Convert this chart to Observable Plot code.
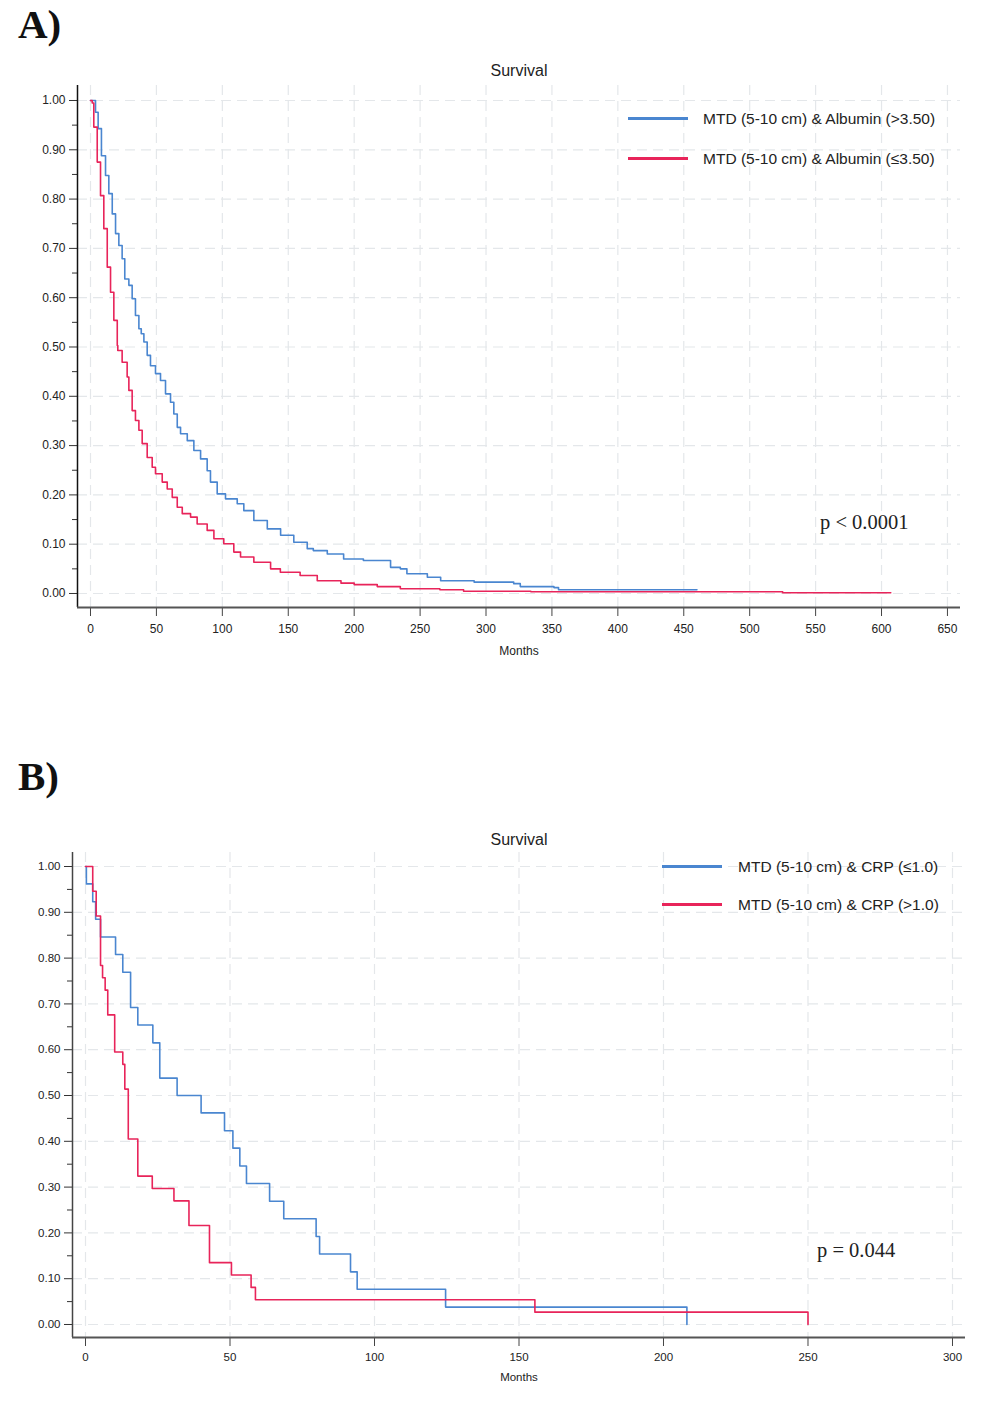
<!DOCTYPE html>
<html>
<head>
<meta charset="utf-8">
<script src="https://cdn.jsdelivr.net/npm/d3@7"></script>
<script src="https://cdn.jsdelivr.net/npm/@observablehq/plot@0.6"></script>
<style>
  body { margin: 0; background: #fff; }
  #page { position: relative; width: 987px; height: 1409px; overflow: hidden; background: #fff; }
  .panel { position: absolute; font-family: "Liberation Serif", "Times New Roman", serif; font-weight: bold; font-size: 41px; line-height: 1.2; color: #111; }
  .pval { position: absolute; font-family: "Liberation Serif", "Times New Roman", serif; font-size: 20.5px; line-height: 1; color: #222; white-space: nowrap; }
  .abs { position: absolute; }
  .leg { position: absolute; font-family: "Liberation Sans", Arial, sans-serif; font-size: 15.5px; color: #222; white-space: nowrap; line-height: 1; }
</style>
</head>
<body>
<div id="page">
  <div class="panel" style="left:18px;top:0px;">A)</div>
  <div id="chartA" class="abs" style="left:0;top:50px;"></div>
  <div class="pval" style="left:820px;top:512px;">p &lt; 0.0001</div>
  <div class="panel" style="left:18px;top:752px;">B)</div>
  <div id="chartB" class="abs" style="left:0;top:815px;"></div>
  <div class="pval" style="left:817px;top:1240px;">p = 0.044</div>
</div>
<script>
// ---------- Panel A data: MTD (5-10 cm) & Albumin ----------
const albHighMonths = [0, 3.8, 5.8, 8.3, 11.4, 13.9, 16.5, 19, 21.5, 24, 26, 29.1, 31.6, 34.1, 36.7, 38.5, 40.5, 43, 45.5, 49.3, 53.1, 56.9, 60.7, 63.2, 65.8, 68.3, 73.4, 78.4, 83.5, 88.5, 91, 96.1, 102.4, 111.3, 116.3, 123.9, 134.1, 144.2, 154.2, 164.4, 169, 179.6, 192, 207, 227.6, 235, 240, 255.5, 265.6, 291, 321, 326, 351.5, 355, 460];
const albHighSurv   = [1.00, 0.976, 0.943, 0.888, 0.848, 0.811, 0.770, 0.730, 0.706, 0.679, 0.638, 0.625, 0.598, 0.564, 0.537, 0.527, 0.510, 0.483, 0.462, 0.446, 0.432, 0.405, 0.388, 0.364, 0.337, 0.324, 0.310, 0.290, 0.273, 0.249, 0.226, 0.202, 0.192, 0.182, 0.168, 0.148, 0.131, 0.118, 0.104, 0.091, 0.087, 0.080, 0.070, 0.067, 0.053, 0.050, 0.040, 0.033, 0.026, 0.023, 0.020, 0.014, 0.012, 0.0075, 0.0075];
const albLowMonths  = [0, 1.3, 2.5, 5.1, 7.6, 10.1, 12.7, 15.2, 17.7, 20.3, 20.7, 24, 27.8, 29.1, 31.6, 34.1, 36.7, 39.2, 43, 46.8, 49.3, 54.4, 58.2, 62, 65.8, 69.6, 75.9, 80.9, 88.5, 93.6, 101.1, 108.7, 113.8, 123.9, 136.6, 144, 159, 172, 190, 200, 217.5, 235, 265, 283, 334, 525, 607];
const albLowSurv    = [1.00, 0.995, 0.946, 0.875, 0.807, 0.740, 0.662, 0.611, 0.554, 0.503, 0.493, 0.469, 0.439, 0.412, 0.371, 0.351, 0.331, 0.304, 0.276, 0.256, 0.243, 0.226, 0.212, 0.195, 0.175, 0.162, 0.155, 0.141, 0.128, 0.111, 0.101, 0.084, 0.074, 0.0635, 0.050, 0.043, 0.0365, 0.026, 0.021, 0.018, 0.014, 0.0095, 0.0075, 0.0047, 0.0035, 0.0015, 0.0015];

// ---------- Panel B data: MTD (5-10 cm) & CRP ----------
const crpLowMonths  = [0, 0.3, 2.5, 3.5, 5.2, 10.4, 12.9, 15.6, 18.1, 23.3, 25.7, 31.7, 40, 48.1, 51, 53.4, 55.7, 63.7, 68.6, 79.8, 81, 91.7, 94, 124.6, 208.1, 208.1];
const crpLowSurv    = [1.000, 0.962, 0.923, 0.885, 0.846, 0.808, 0.769, 0.692, 0.654, 0.615, 0.538, 0.500, 0.462, 0.423, 0.385, 0.346, 0.308, 0.269, 0.231, 0.192, 0.154, 0.115, 0.077, 0.038, 0.038, 0];
const crpHighMonths = [0, 2.5, 3.7, 5.2, 5.9, 6.8, 7.7, 10.1, 12.9, 13.6, 14.8, 18.1, 23.1, 30.6, 35.8, 42.9, 50.5, 57.3, 58.8, 155.5, 250, 250];
const crpHighSurv   = [1.000, 0.946, 0.892, 0.784, 0.757, 0.730, 0.676, 0.595, 0.568, 0.514, 0.405, 0.324, 0.297, 0.270, 0.216, 0.135, 0.108, 0.081, 0.054, 0.027, 0.027, 0];

// ---------- Labels / ticks ----------
const titleText = "Survival";
const xLabelText = "Months";
const legendA = ["MTD (5-10 cm) & Albumin (>3.50)", "MTD (5-10 cm) & Albumin (\u22643.50)"];
const legendB = ["MTD (5-10 cm) & CRP (\u22641.0)", "MTD (5-10 cm) & CRP (>1.0)"];
const yTicks = [0.0, 0.1, 0.2, 0.3, 0.4, 0.5, 0.6, 0.7, 0.8, 0.9, 1.0];
const yMinorTicks = [0.05, 0.15, 0.25, 0.35, 0.45, 0.55, 0.65, 0.75, 0.85, 0.95];
const xTicksA = [0, 50, 100, 150, 200, 250, 300, 350, 400, 450, 500, 550, 600, 650];
const xTicksB = [0, 50, 100, 150, 200, 250, 300];

const BLUE = "#4a86d0";
const RED = "#e8245a";
const GRID = "#e4e7ea";

const rows = (ms, ss) => ms.map((m, i) => ({month: m, surv: ss[i]}));

function survivalChart({width, height, mt, mr, mb, ml, xDomain, yDomain, xTicks, fontSize, yAxisColor, series, titleDy, labelDy, xPad}) {
  return Plot.plot({
    width, height,
    marginTop: mt, marginRight: mr, marginBottom: mb, marginLeft: ml,
    x: {domain: xDomain, label: null},
    y: {domain: yDomain, label: null},
    style: {fontFamily: "'Liberation Sans', Arial, sans-serif", fontSize: fontSize + "px", background: "white", color: "#222"},
    marks: [
      Plot.gridX(xTicks, {stroke: GRID, strokeOpacity: 1, strokeWidth: 1.2, strokeDasharray: "10,6"}),
      Plot.gridY(yTicks, {stroke: GRID, strokeOpacity: 1, strokeWidth: 1.2, strokeDasharray: "10,6"}),
      Plot.axisY(yTicks, {anchor: "left", tickFormat: d => d.toFixed(2), tickSize: 8, tickPadding: 4, stroke: "#333", fill: "#222", fontSize}),
      Plot.axisY(yMinorTicks, {anchor: "left", tickFormat: () => "", tickSize: 5, stroke: "#333"}),
      Plot.axisX(xTicks, {anchor: "bottom", tickSize: 9, tickPadding: xPad, stroke: "#444", fill: "#222", fontSize}),
      Plot.ruleX([xDomain[0]], {stroke: yAxisColor, strokeWidth: 1.5}),
      Plot.ruleY([yDomain[0]], {stroke: "#555", strokeWidth: 2}),
      ...series.map(s => Plot.line(s.data, {x: "month", y: "surv", curve: "step-after", stroke: s.color, strokeWidth: 1.6})),
      Plot.text([titleText], {frameAnchor: "top", dy: titleDy, fontSize: 16, fill: "#222"}),
      Plot.text([xLabelText], {frameAnchor: "bottom", dy: labelDy, fontSize: fontSize, fill: "#222"})
    ]
  });
}

const chartA = survivalChart({
  width: 987, height: 620, mt: 35, mr: 27, mb: 63, ml: 77,
  xDomain: [-9.86, 659.9], yDomain: [-0.0284, 1.0304], xTicks: xTicksA, fontSize: 12,
  yAxisColor: "#111", titleDy: -21, labelDy: 47, xPad: 8,
  series: [
    {data: rows(albHighMonths, albHighSurv), color: BLUE},
    {data: rows(albLowMonths, albLowSurv), color: RED}
  ]
});
document.getElementById("chartA").appendChild(chartA);

const chartB = survivalChart({
  width: 987, height: 590, mt: 37, mr: 22, mb: 68, ml: 72,
  xDomain: [-4.5, 304.5], yDomain: [-0.0284, 1.0306], xTicks: xTicksB, fontSize: 11.5,
  yAxisColor: "#444", titleDy: -19, labelDy: 43, xPad: 6,
  series: [
    {data: rows(crpLowMonths, crpLowSurv), color: BLUE},
    {data: rows(crpHighMonths, crpHighSurv), color: RED}
  ]
});
document.getElementById("chartB").appendChild(chartB);

// ---------- Legends (HTML overlays) ----------
function addLegend(items, colors, lineX, textX, ys) {
  const page = document.getElementById("page");
  items.forEach((label, i) => {
    const ln = document.createElement("div");
    ln.className = "abs";
    ln.style.cssText = `left:${lineX}px;top:${ys[i] - 1}px;width:60px;height:2.5px;background:${colors[i]};`;
    page.appendChild(ln);
    const tx = document.createElement("div");
    tx.className = "leg";
    tx.style.cssText = `left:${textX}px;top:${ys[i] - 7}px;`;
    tx.textContent = label;
    page.appendChild(tx);
  });
}
addLegend(legendA, [BLUE, RED], 628, 703, [118, 158]);
addLegend(legendB, [BLUE, RED], 662, 738, [866, 904]);
</script>
</body>
</html>
